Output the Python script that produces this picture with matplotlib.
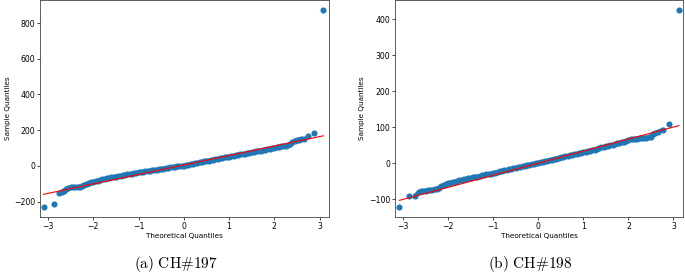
import matplotlib
matplotlib.use("Agg")
import matplotlib.pyplot as plt
import numpy as np

# CH#197 : theoretical vs sample quantiles
theo_197 = [-3.10, -2.88, -2.76,
            -2.70, -2.65, -2.60, -2.55, -2.50, -2.45, -2.40, -2.35, -2.30, -2.25,
            -2.20, -2.15, -2.10, -2.05, -2.00, -1.95, -1.90, -1.85, -1.80, -1.75,
            -1.70, -1.65, -1.60, -1.55, -1.50, -1.45, -1.40, -1.35, -1.30, -1.25,
            -1.20, -1.15, -1.10, -1.05, -1.00, -0.95, -0.90, -0.85, -0.80, -0.75,
            -0.70, -0.65, -0.60, -0.55, -0.50, -0.45, -0.40, -0.35, -0.30, -0.25,
            -0.20, -0.15, -0.10, -0.05, 0.00, 0.05, 0.10, 0.15, 0.20, 0.25,
            0.30, 0.35, 0.40, 0.45, 0.50, 0.55, 0.60, 0.65, 0.70, 0.75,
            0.80, 0.85, 0.90, 0.95, 1.00, 1.05, 1.10, 1.15, 1.20, 1.25,
            1.30, 1.35, 1.40, 1.45, 1.50, 1.55, 1.60, 1.65, 1.70, 1.75,
            1.80, 1.85, 1.90, 1.95, 2.00, 2.05, 2.10, 2.15, 2.20, 2.25,
            2.30, 2.35, 2.40, 2.45, 2.50, 2.55, 2.60, 2.65,
            2.75, 2.88, 3.085]
samp_197 = [-231, -212, -153,
            -145, -138, -132, -126, -121, -120, -119, -118, -116, -110,
            -105, -100, -95, -92, -89, -86, -83, -79, -76, -72,
            -69, -67, -65, -62, -60, -58, -56, -53, -50, -48,
            -46, -43, -41, -39, -37, -35, -33, -31, -29, -27,
            -25, -23, -21, -19, -17, -15, -13, -11, -9, -7,
            -5, -3, -2, 0, 2, 4, 7, 9, 12, 14,
            17, 20, 23, 25, 28, 30, 33, 35, 38, 40,
            43, 45, 47, 50, 52, 55, 57, 60, 62, 64,
            66, 69, 71, 74, 76, 79, 81, 84, 86, 89,
            91, 94, 96, 99, 102, 105, 107, 109, 111, 114,
            116, 123, 134, 140, 145, 147, 149, 152,
            169, 183, 874]
line_197 = (5.0, 53.0)  # intercept, slope of the reference line

# CH#198
theo_198 = [-3.08, -2.87, -2.74,
            -2.65, -2.60, -2.55, -2.50, -2.45, -2.40, -2.35, -2.30, -2.25,
            -2.20, -2.15, -2.10, -2.05, -2.00, -1.95, -1.90, -1.85, -1.80, -1.75,
            -1.70, -1.65, -1.60, -1.55, -1.50, -1.45, -1.40, -1.35, -1.30, -1.25,
            -1.20, -1.15, -1.10, -1.05, -1.00, -0.95, -0.90, -0.85, -0.80, -0.75,
            -0.70, -0.65, -0.60, -0.55, -0.50, -0.45, -0.40, -0.35, -0.30, -0.25,
            -0.20, -0.15, -0.10, -0.05, 0.00, 0.05, 0.10, 0.15, 0.20, 0.25,
            0.30, 0.35, 0.40, 0.45, 0.50, 0.55, 0.60, 0.65, 0.70, 0.75,
            0.80, 0.85, 0.90, 0.95, 1.00, 1.05, 1.10, 1.15, 1.20, 1.25,
            1.30, 1.35, 1.40, 1.45, 1.50, 1.55, 1.60, 1.65, 1.70, 1.75,
            1.80, 1.85, 1.90, 1.95, 2.00, 2.05, 2.10, 2.15, 2.20, 2.25,
            2.30, 2.35, 2.40, 2.45, 2.50, 2.55, 2.60, 2.65,
            2.76, 2.91, 3.12]
samp_198 = [-122, -92, -92,
            -80, -78, -77, -76, -75, -75, -74, -73, -71,
            -68, -64, -60, -58, -56, -54, -53, -51, -50, -48,
            -47, -45, -44, -42, -41, -39, -38, -37, -36, -34,
            -33, -31, -30, -29, -28, -26, -25, -23, -22, -20,
            -19, -17, -16, -14, -13, -11, -10, -8, -7, -5,
            -4, -3, -2, 0, 1, 2, 4, 5, 7, 8,
            10, 11, 13, 14, 16, 17, 19, 20, 22, 23,
            25, 26, 28, 29, 31, 32, 34, 35, 37, 38,
            40, 42, 44, 45, 47, 48, 50, 51, 53, 55,
            57, 58, 60, 62, 64, 66, 67, 67, 68, 69,
            70, 70, 71, 72, 74, 82, 84, 86,
            93, 108, 426]
line_198 = (0.0, 33.5)

captions = [r"$\mathrm{(a)\ CH\#197}$", r"$\mathrm{(b)\ CH\#198}$"]

plt.rcParams["mathtext.fontset"] = "cm"

fig = plt.figure(figsize=(6.85, 2.75), dpi=100)
ax1 = fig.add_axes([0.0584, 0.211, 0.4219, 0.789])
ax2 = fig.add_axes([0.5766, 0.211, 0.4204, 0.789])

# (axes, x, y, line, caption x, isolated points at the low end, at the high end)
panels = [(ax1, theo_197, samp_197, line_197, 0.257, 2, 3),
          (ax2, theo_198, samp_198, line_198, 0.774, 2, 2)]

for i, (ax, tq, sq, (b, m), cx, lo, hi) in enumerate(panels):
    tq = np.array(tq)
    sq = np.array(sq)
    # the dense middle of the sample reads as one solid band
    ax.plot(tq[lo:-hi], sq[lo:-hi], "-", color="#1f77b4", lw=3.0,
            solid_capstyle="round")
    ax.plot(tq, sq, "o", color="#1f77b4", markersize=4.4, markeredgewidth=0)
    xs = np.array([tq.min(), tq.max()])
    ax.plot(xs, b + m * xs, color="red", lw=0.8)
    ax.set_xlim(-3.18, 3.21)
    ax.set_xticks([-3, -2, -1, 0, 1, 2, 3])
    ax.set_xlabel("Theoretical Quantiles", fontsize=5.2, labelpad=1.5)
    ax.set_ylabel("Sample Quantiles", fontsize=5.2, labelpad=2.5)
    ax.tick_params(labelsize=5.6, length=2, width=0.5, pad=1.5)
    for s in ax.spines.values():
        s.set_linewidth(0.6)
        s.set_color("#444444")
    fig.text(cx, 0.04, captions[i], fontsize=11, ha="center", va="center")

fig.savefig("out.png", dpi=100)
